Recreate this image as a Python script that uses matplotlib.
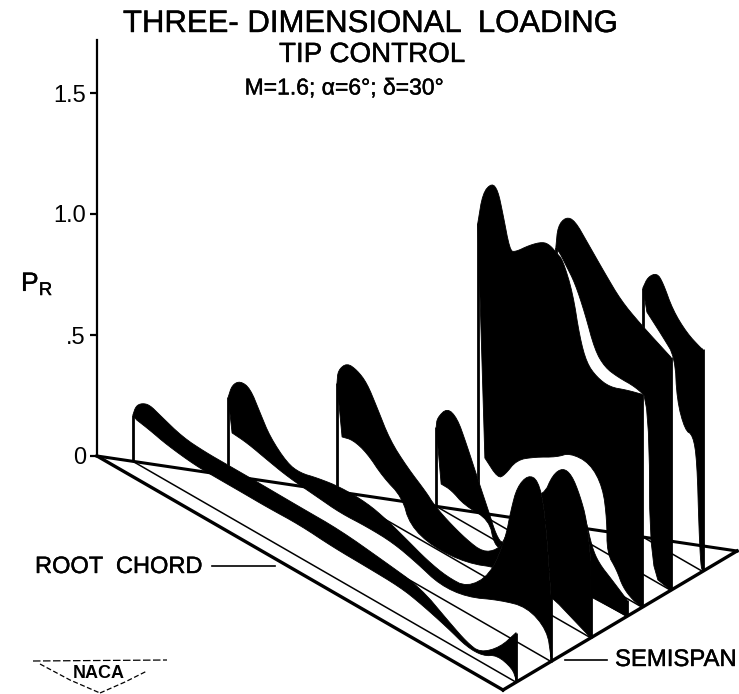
import matplotlib
matplotlib.use("Agg")
import matplotlib.pyplot as plt
import matplotlib.patheffects as pe

plt.rcParams["font.family"] = ["Liberation Sans", "DejaVu Sans"]
plt.rcParams["mathtext.default"] = "regular"

# spanwise position of each loading sheet, root to tip
ETA = [0.056, 0.205, 0.375, 0.53, 0.595, 0.717, 0.853]

# sheet outlines: chord fraction and P_R, upper edge and lower edge of the black band
top_xi_1 = [0, .008, .024, .044, .07, .13, .188, .248, .324, .436, .54, .653, .749, .828, .872, .906, .958, 1]
top_p_1 = [.191, .236, .262, .273, .256, .219, .211, .211, .211, .209, .209, .186, .164, .087, .048, .037, .106, .205]
low_xi_1 = [.01, .044, .089, .162, .219, .287, .35, .436, .522, .611, .697, .749, .82, .872, .914, .95, .99, 1]
low_p_1 = [.18, .169, .149, .132, .131, .131, .13, .134, .122, .12, .116, .098, .062, .028, .03, .066, .048, .01]

top_xi_2 = [0, .012, .037, .068, .099, .13, .183, .223, .276, .347, .43, .492, .554, .616, .678, .74, .811, .858, .876, .895, .929, .96, .981, 1]
top_p_2 = [.324, .383, .419, .413, .335, .259, .192, .182, .202, .219, .217, .194, .16, .124, .103, .107, .212, .393, .531, .64, .716, .719, .612, .275]
low_xi_2 = [.012, .059, .121, .186, .276, .347, .43, .511, .585, .656, .74, .842, .926, .988, 1]
low_p_2 = [.185, .179, .157, .136, .123, .112, .118, .114, .087, .052, .066, .132, .168, .12, .019]

top_xi_3 = [0, .004, .039, .079, .118, .157, .209, .276, .354, .378, .433, .512, .575, .63, .661, .72, .815, .85, .89, .925, .957, .984, 1]
top_p_3 = [.449, .504, .555, .55, .52, .445, .339, .269, .208, .181, .145, .11, .098, .14, .2, .4, .478, .583, .636, .628, .564, .478, .32]
low_xi_3 = [.02, .063, .118, .181, .256, .287, .378, .512, .642, .8, 1]
low_p_3 = [.238, .251, .231, .17, .132, .036, 0, .014, .072, .1, 0]

top_xi_4 = [0, .005, .058, .11, .157, .225, .277, .314, .35, .487, .644, .733, .785, .817, .853, .921, 1]
top_p_4 = [.328, .368, .433, .415, .333, .199, .1, .025, 0, .08, .318, .4, .3, .202, .153, .115, .068]
low_xi_4 = [.026, .079, .147, .277, .304, .35, 1]
low_p_4 = [.104, .103, .072, .07, -.02, -.02, 0]

top_xi_5 = [0, .03, .085, .122, .152, .195, .225, .316, .395, .438, .48, .517, .578, .62, .663, .724, .803, .906, 1]
top_p_5 = [1.196, 1.332, 1.395, 1.38, 1.297, 1.161, 1.164, 1.229, 1.273, 1.277, 1.26, 1.246, 1.133, .968, .877, .843, .833, .861, .88]
low_xi_5 = [.043, .122, .164, .237, .347, .48, .56, .681, .76, .785, .786, .845, .882, .943, 1]
low_p_5 = [.242, .19, .219, .31, .365, .417, .465, .471, .403, .276, .14, .093, .037, .007, 0]

top_xi_6 = [0, .017, .087, .165, .278, .426, .566, .731, 1]
top_p_6 = [1.145, 1.236, 1.293, 1.30, 1.237, 1.154, 1.08, 1.03, .964]
low_xi_6 = [.044, .087, .165, .252, .339, .426, .54, .696, .81, .82, 1]
low_p_6 = [1.123, 1.094, 1.042, .941, .812, .765, .755, .756, .734, .02, 0]

top_xi_7 = [0, .084, .235, .335, .503, .737, .97, 1]
top_p_7 = [1.03, 1.087, 1.124, 1.10, 1.009, .948, .919, .919]
low_xi_7 = [.067, .335, .536, .57, .704, .838, .905, .94, .97, 1]
low_p_7 = [.939, .874, .82, .647, .542, .54, .446, .16, .02, 0]

TOP_XI = [top_xi_1, top_xi_2, top_xi_3, top_xi_4, top_xi_5, top_xi_6, top_xi_7]
TOP_P = [top_p_1, top_p_2, top_p_3, top_p_4, top_p_5, top_p_6, top_p_7]
LOW_XI = [low_xi_1, low_xi_2, low_xi_3, low_xi_4, low_xi_5, low_xi_6, low_xi_7]
LOW_P = [low_p_1, low_p_2, low_p_3, low_p_4, low_p_5, low_p_6, low_p_7]

P_TICKS = [0, 0.5, 1.0, 1.5]
P_LABELS = ["0", ".5", "1.0", "1.5"]

# oblique projection of the wing plan, pixels across and P_R units up
X0 = 97
SPAN_DX = 640
CHORD_DX = 406
SPAN_DP = 95 / 242
CHORD_DP = 234 / 242


def project(eta, xi, p):
    x = X0 + SPAN_DX * eta + CHORD_DX * (1 - eta) * xi
    y = p - SPAN_DP * eta - CHORD_DP * (1 - eta) * xi
    return x, y


def soften(vals, rounds=2):
    # corner cutting, the ends stay where they are
    for _ in range(rounds):
        out = [vals[0]]
        for a, b in zip(vals[:-1], vals[1:]):
            out += [0.75 * a + 0.25 * b, 0.25 * a + 0.75 * b]
        out.append(vals[-1])
        vals = out
    return vals


def outline(eta, xis, ps):
    pts = [project(eta, a, b) for a, b in zip(xis, ps)]
    return [q[0] for q in pts], [q[1] for q in pts]


fig = plt.figure(figsize=(7.39, 6.94), dpi=100)
ax = fig.add_axes([0, 0, 1, 1])
ax.set_xlim(0, 739)
ax.set_ylim(-238 / 242, 456 / 242)

for spine in ["top", "right", "bottom"]:
    ax.spines[spine].set_visible(False)
ax.spines["left"].set_position(("data", X0))
ax.spines["left"].set_bounds(0, 1.72)
ax.spines["left"].set_linewidth(1.6)
ax.set_xticks([])
ax.set_yticks(P_TICKS)
ax.set_yticklabels(P_LABELS, fontsize=17)
ax.tick_params(axis="y", direction="out", length=5, width=1.6, pad=3)
ax.patch.set_visible(False)

# tip sheet first, the root sheet sits in front
z = 2
for i in range(len(ETA) - 1, -1, -1):
    eta = ETA[i]
    tx, ty = outline(eta, TOP_XI[i], TOP_P[i])
    lx, ly = outline(eta, LOW_XI[i], LOW_P[i])
    bx, by = outline(eta, [1, 0], [0, 0])
    sx, sy = soften(tx), soften(ty)
    ux, uy = soften(lx), soften(ly)
    ax.fill(sx + bx, sy + by, color="white", lw=0, zorder=z)
    ax.fill(sx + ux[::-1], sy + uy[::-1], color="black", lw=0.6, zorder=z + 0.1)
    # leading edge of the sheet
    ax.plot([bx[1], tx[0]], [by[1], ty[0]], color="black", lw=2, zorder=z + 0.2, solid_capstyle="butt")
    # trailing edge of the sheet
    ax.plot([bx[0], tx[-1]], [by[0], ty[-1]], color="black", lw=2, zorder=z + 0.2, solid_capstyle="butt")
    z += 1

# plan form: sheet bases, then the three outer edges
for eta in ETA:
    bx, by = outline(eta, [0, 1], [0, 0])
    ax.plot(bx, by, color="black", lw=1.1, zorder=z)
ex, ey = outline(0, [0, 1], [0, 0])
ax.plot(ex, ey, color="black", lw=2.4, zorder=z)
sx, sy = zip(project(0, 0, 0), project(1, 0, 0))
ax.plot(sx, sy, color="black", lw=2.2, zorder=z)
tx, ty = zip(project(0, 1, 0), project(1, 0, 0))
ax.plot(tx, ty, color="black", lw=2.4, zorder=z)

# lettering goes on an overlay in pixel units
lab = fig.add_axes([0, 0, 1, 1])
lab.set_xlim(0, 739)
lab.set_ylim(694, 0)
lab.axis("off")
heavy = [pe.withStroke(linewidth=0.3, foreground="black")]
lab.text(370, 24, "THREE- DIMENSIONAL  LOADING", fontsize=22.4, ha="center", va="center", path_effects=heavy)
lab.text(372, 55, "TIP CONTROL", fontsize=20, ha="center", va="center", path_effects=heavy)
lab.text(344, 88, "M=1.6; α=6°; δ=30°", fontsize=16.5, ha="center", va="center", path_effects=heavy)
lab.text(21, 284, "P$_{R}$", fontsize=19, ha="left", va="center", path_effects=heavy)
lab.text(35, 567, "ROOT  CHORD", fontsize=17, ha="left", va="center", path_effects=heavy)
lab.plot([212, 275], [566, 566], color="black", lw=1.2)
lab.text(615, 660, "SEMISPAN", fontsize=17.2, ha="left", va="center", path_effects=heavy)
lab.plot([565, 607], [660, 660], color="black", lw=1.2)

# NACA badge
lab.text(99, 674, "NACA", fontsize=13, fontweight="bold", ha="center", va="center")
lab.plot([33, 167], [661, 660], color="black", lw=0.9, ls=(0, (6, 2)))
lab.plot([40, 70, 100], [664, 680, 693], color="black", lw=0.9, ls=(0, (4, 2)))
lab.plot([100, 125, 147], [693, 682, 671], color="black", lw=0.9, ls=(0, (4, 2)))

fig.savefig("out.png", dpi=100)
